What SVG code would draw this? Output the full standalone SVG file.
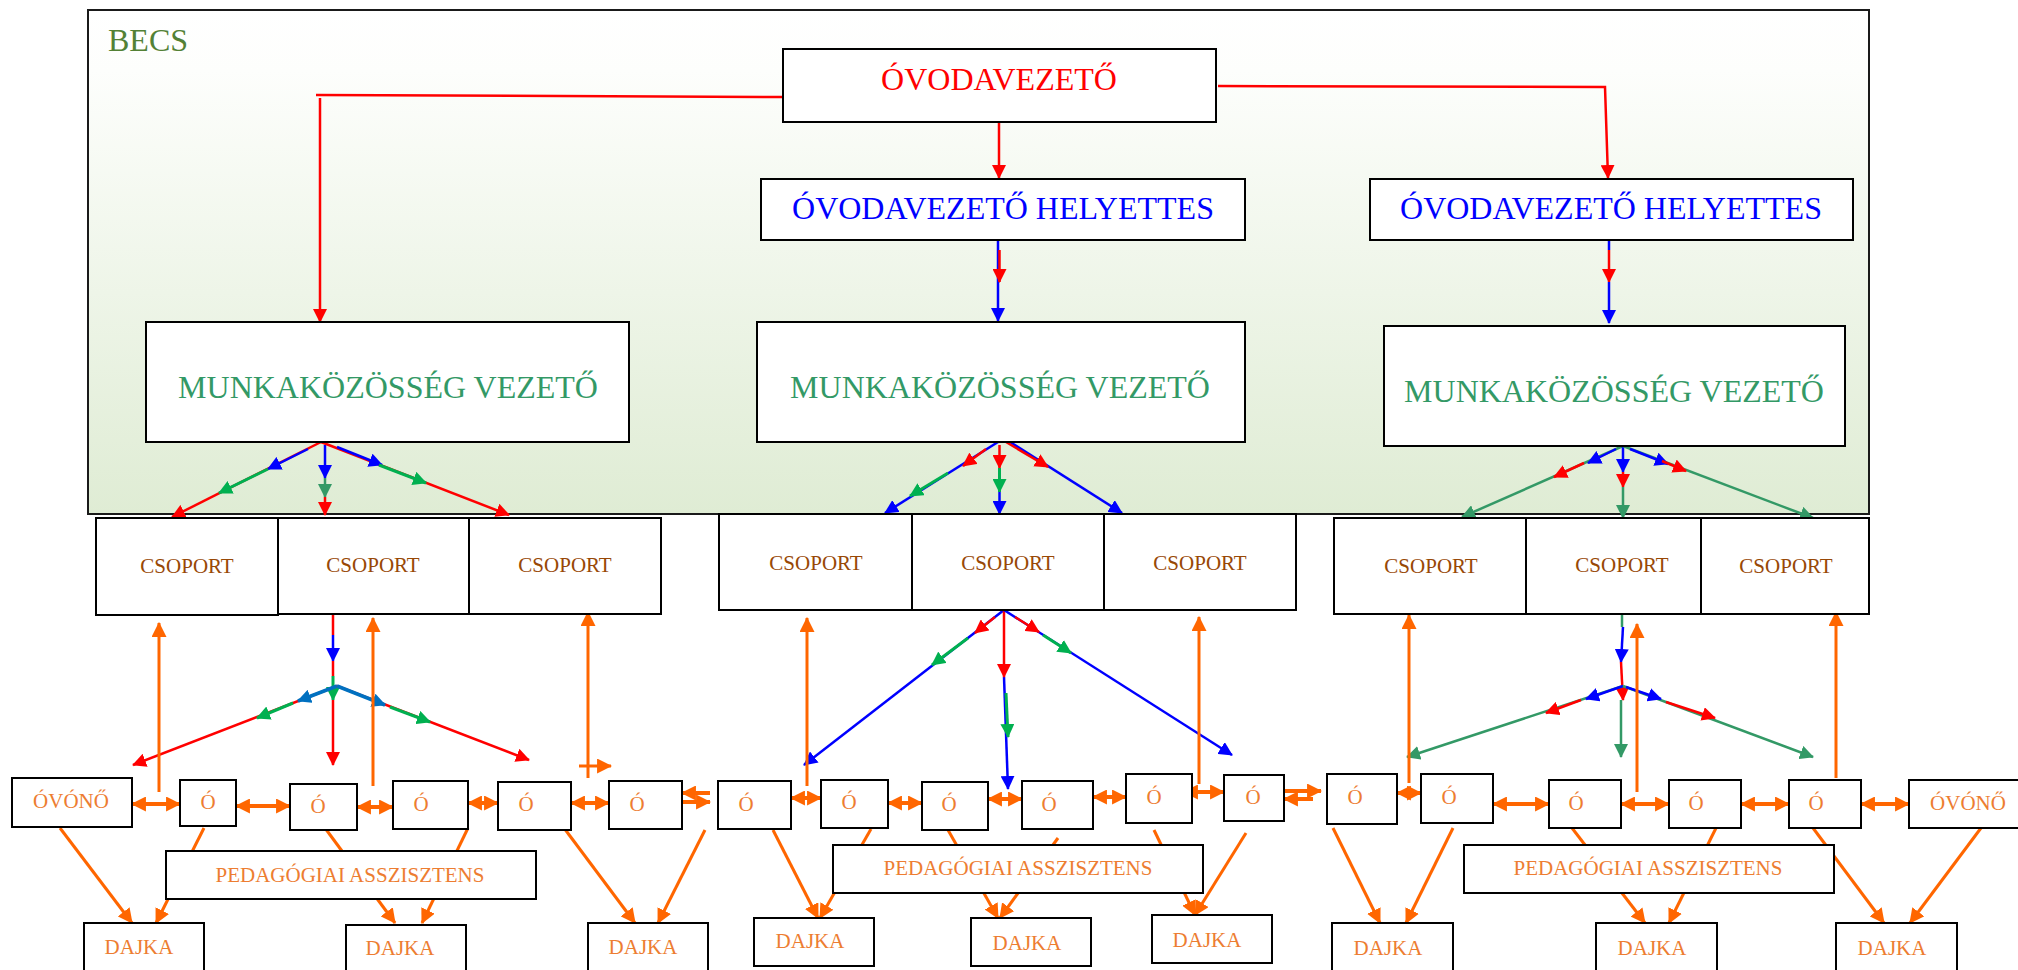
<svg xmlns="http://www.w3.org/2000/svg" width="2018" height="970" viewBox="0 0 2018 970">
<defs>
<linearGradient id="becsGrad" x1="0" y1="0" x2="0" y2="1">
<stop offset="0" stop-color="#ffffff"/>
<stop offset="0.12" stop-color="#fdfefc"/>
<stop offset="1" stop-color="#dfecd4"/>
</linearGradient>
<marker id="mR" viewBox="0 0 14 14" refX="13" refY="7" markerWidth="14" markerHeight="14" markerUnits="userSpaceOnUse" orient="auto-start-reverse"><path d="M0,0 L14,7 L0,14 z" fill="#FF0000"/></marker>
<marker id="mB" viewBox="0 0 14 14" refX="13" refY="7" markerWidth="14" markerHeight="14" markerUnits="userSpaceOnUse" orient="auto-start-reverse"><path d="M0,0 L14,7 L0,14 z" fill="#0000FF"/></marker>
<marker id="mLB" viewBox="0 0 14 14" refX="13" refY="7" markerWidth="14" markerHeight="14" markerUnits="userSpaceOnUse" orient="auto-start-reverse"><path d="M0,0 L14,7 L0,14 z" fill="#0070C0"/></marker>
<marker id="mG" viewBox="0 0 14 14" refX="13" refY="7" markerWidth="14" markerHeight="14" markerUnits="userSpaceOnUse" orient="auto-start-reverse"><path d="M0,0 L14,7 L0,14 z" fill="#00B050"/></marker>
<marker id="mSG" viewBox="0 0 14 14" refX="13" refY="7" markerWidth="14" markerHeight="14" markerUnits="userSpaceOnUse" orient="auto-start-reverse"><path d="M0,0 L14,7 L0,14 z" fill="#339966"/></marker>
<marker id="mO" viewBox="0 0 14 14" refX="13" refY="7" markerWidth="15" markerHeight="15" markerUnits="userSpaceOnUse" orient="auto-start-reverse"><path d="M0,0 L14,7 L0,14 z" fill="#FF6600"/></marker>
</defs>
<style>
.box{fill:#ffffff;stroke:#000000;stroke-width:2}
.t{font-family:"Liberation Serif","Times New Roman",serif;text-anchor:middle}
.big{font-size:32px}
.sm{font-size:21px}
.cr{fill:#FF0000}
.cb{fill:#0000FF}
.cg{fill:#339966}
.cbr{fill:#984806}
.co{fill:#ED7D31}
.r{stroke:#FF0000;stroke-width:2.5;fill:none;marker-end:url(#mR)}
.rn{stroke:#FF0000;stroke-width:2.5;fill:none}
.b{stroke:#0000FF;stroke-width:2.5;fill:none;marker-end:url(#mB)}
.bn{stroke:#0000FF;stroke-width:2.5;fill:none}
.lb{stroke:#0070C0;stroke-width:3.5;fill:none;marker-end:url(#mLB)}
.g{stroke:#00B050;stroke-width:3;fill:none;marker-end:url(#mG)}
.gn{stroke:#00B050;stroke-width:3;fill:none}
.sg{stroke:#339966;stroke-width:2.5;fill:none;marker-end:url(#mSG)}
.sgn{stroke:#339966;stroke-width:2.5;fill:none}
.o{stroke:#FF6600;stroke-width:3;fill:none;marker-end:url(#mO)}
.od{stroke:#FF6600;stroke-width:4;fill:none;marker-start:url(#mO);marker-end:url(#mO)}
.os{stroke:#FF6600;stroke-width:4;fill:none;marker-end:url(#mO)}
</style>

<g id="becs">
<rect x="88" y="10" width="1781" height="504" fill="url(#becsGrad)" stroke="#1a1a1a" stroke-width="2"/>
<text x="108" y="51" font-family="Liberation Serif, Times New Roman, serif" font-size="32" fill="#538135">BECS</text>
</g>

<g id="connectors">
<!-- top level -->
<path class="rn" d="M782,97 L316,95" stroke-width="2"/>
<path class="r" d="M320,98 L320,322" stroke-width="2"/>
<path class="r" d="M999,122 L999,178" stroke-width="2"/>
<path class="r" d="M1218,86 L1605,87 L1608,178" stroke-width="2"/>
<path class="b" d="M998,240 L998,321"/>
<path class="r" d="M999.5,250 L999.5,282"/>
<path class="bn" d="M1609,240 L1609,250"/>
<path class="r" d="M1609,250 L1609,282"/>
<path class="b" d="M1609,282 L1609,323"/>

<!-- left MK bundle -->
<path class="r" d="M321,442 L172,517"/>
<path class="b" d="M308,449 L268,469"/>
<path class="g" d="M268,469 L219,493"/>
<path class="b" d="M325,445 L325,478"/>
<path class="sg" d="M325,478 L325,497"/>
<path class="r" d="M325,497 L325,515"/>
<path class="r" d="M321,442 L509,515"/>
<path class="b" d="M337,447 L382,465"/>
<path class="g" d="M379,465 L426,483"/>

<!-- middle MK bundle -->
<path class="b" d="M998,442 L885,513"/>
<path class="r" d="M986,449 L963,466"/>
<path class="g" d="M948,473 L910,496"/>
<path class="r" d="M999.5,445 L999.5,468"/>
<path class="g" d="M999.5,468 L999.5,492"/>
<path class="b" d="M999.5,492 L999.5,514"/>
<path class="b" d="M1010,442 L1122,513"/>
<path class="r" d="M1006,442 L1048,467"/>

<!-- right MK bundle -->
<path class="sg" d="M1623,446 L1462,517"/>
<path class="b" d="M1616,449 L1588,463"/>
<path class="r" d="M1584,463 L1554,477"/>
<path class="b" d="M1623,447 L1623,472"/>
<path class="r" d="M1623,472 L1623,487"/>
<path class="sg" d="M1623,487 L1623,518"/>
<path class="sg" d="M1623,446 L1813,518"/>
<path class="b" d="M1630,449 L1668,464"/>
<path class="r" d="M1662,461 L1686,471"/>

<!-- left CSOPORT bundle -->
<path class="rn" d="M333,615 L333,635"/>
<path class="b" d="M333,635 L333,661"/>
<path class="rn" d="M333,661 L333,676"/>
<path class="g" d="M333,676 L333,700"/>
<path class="r" d="M333,700 L333,765"/>
<path class="r" d="M337,686 L133,765"/>
<path class="lb" d="M337,686 L298,701"/>
<path class="g" d="M293,703 L257,718"/>
<path class="r" d="M337,686 L529,760"/>
<path class="lb" d="M337,686 L385,705"/>
<path class="g" d="M390,707 L430,722"/>

<!-- middle CSOPORT bundle -->
<path class="b" d="M1004,610 L804,765"/>
<path class="r" d="M995,617 L975,633"/>
<path class="g" d="M968,638 L932,665"/>
<path class="b" d="M1004,677 L1008,789"/>
<path class="r" d="M1004,610 L1004,677"/>
<path class="g" d="M1006,693 L1008,737"/>
<path class="b" d="M1004,610 L1232,755"/>
<path class="r" d="M1015,617 L1039,632"/>
<path class="g" d="M1043,635 L1071,653"/>

<!-- right CSOPORT bundle -->
<path class="sgn" d="M1622,614 L1622,627"/>
<path class="b" d="M1623,627 L1621,662"/>
<path class="r" d="M1621,662 L1623,700"/>
<path class="sg" d="M1621,700 L1621,757"/>
<path class="sg" d="M1623,686 L1407,757"/>
<path class="b" d="M1623,686 L1586,699"/>
<path class="r" d="M1581,700 L1546,713"/>
<path class="sg" d="M1623,686 L1813,757"/>
<path class="b" d="M1626,687 L1661,699"/>
<path class="r" d="M1666,702 L1715,718"/>

<!-- orange up arrows -->
<path class="o" d="M159,792 L159,623"/>
<path class="o" d="M373,786 L373,618"/>
<path class="o" d="M588,778 L588,612"/>
<path class="o" d="M579,766 L611,766"/>
<path class="o" d="M807,786 L807,618"/>
<path class="o" d="M1199,784 L1199,617"/>
<path class="o" d="M1409,783 L1409,615"/>
<path class="o" d="M1637,792 L1637,624"/>
<path class="o" d="M1836,778 L1836,612"/>

<!-- orange horizontal double arrows -->
<path class="od" d="M132,804 L180,804"/>
<path class="od" d="M236,806 L290,806"/>
<path class="od" d="M357,807 L393,807"/>
<path class="od" d="M468,803 L498,803"/>
<path class="od" d="M571,803 L609,803"/>
<path class="os" d="M710,793 L682,793"/>
<path class="os" d="M682,802 L710,802"/>
<path class="od" d="M791,798 L821,798"/>
<path class="od" d="M888,803 L922,803"/>
<path class="od" d="M988,799 L1022,799"/>
<path class="od" d="M1093,797 L1126,797"/>
<path class="od" d="M1184,792 L1224,792"/>
<path class="os" d="M1284,791 L1321,791"/>
<path class="os" d="M1313,799 L1284,799"/>
<path class="od" d="M1397,793 L1421,793"/>
<path class="od" d="M1493,804 L1549,804"/>
<path class="od" d="M1621,804 L1669,804"/>
<path class="od" d="M1741,804 L1789,804"/>
<path class="od" d="M1861,804 L1909,804"/>

<!-- orange lines to DAJKA -->
<path class="o" d="M60,828 L132,923"/>
<path class="o" d="M204,828 L156,923"/>
<path class="o" d="M325,828 L395,923"/>
<path class="o" d="M468,828 L422,923"/>
<path class="o" d="M564,828 L635,923"/>
<path class="o" d="M705,830 L658,923"/>
<path class="o" d="M773,830 L818,918"/>
<path class="o" d="M871,829 L820,918"/>
<path class="o" d="M948,830 L998,918"/>
<path class="o" d="M1058,838 L1000,918"/>
<path class="o" d="M1154,830 L1195,915"/>
<path class="o" d="M1246,833 L1195,915"/>
<path class="o" d="M1333,828 L1380,923"/>
<path class="o" d="M1453,828 L1406,923"/>
<path class="o" d="M1572,828 L1645,923"/>
<path class="o" d="M1716,828 L1669,923"/>
<path class="o" d="M1813,828 L1884,923"/>
<path class="o" d="M1981,828 L1910,923"/>
</g>

<g id="ovodavezeto"><rect class="box" x="783" y="49" width="433" height="73"/><text class="t big cr" x="999" y="90">ÓVODAVEZETŐ</text></g>
<g id="helyettes1"><rect class="box" x="761" y="179" width="484" height="61"/><text class="t big cb" x="1003" y="219">ÓVODAVEZETŐ HELYETTES</text></g>
<g id="helyettes2"><rect class="box" x="1370" y="179" width="483" height="61"/><text class="t big cb" x="1611" y="219">ÓVODAVEZETŐ HELYETTES</text></g>
<g id="mk1"><rect class="box" x="146" y="322" width="483" height="120"/><text class="t big cg" x="388" y="398">MUNKAKÖZÖSSÉG VEZETŐ</text></g>
<g id="mk2"><rect class="box" x="757" y="322" width="488" height="120"/><text class="t big cg" x="1000" y="398">MUNKAKÖZÖSSÉG VEZETŐ</text></g>
<g id="mk3"><rect class="box" x="1384" y="326" width="461" height="120"/><text class="t big cg" x="1614" y="402">MUNKAKÖZÖSSÉG VEZETŐ</text></g>

<g id="csoport1"><rect class="box" x="96" y="518" width="182" height="97"/><text class="t sm cbr" x="187" y="573">CSOPORT</text></g>
<g id="csoport2"><rect class="box" x="278" y="518" width="191" height="96"/><text class="t sm cbr" x="373" y="572">CSOPORT</text></g>
<g id="csoport3"><rect class="box" x="469" y="518" width="192" height="96"/><text class="t sm cbr" x="565" y="572">CSOPORT</text></g>
<g id="csoport4"><rect class="box" x="719" y="514" width="193" height="96"/><text class="t sm cbr" x="816" y="570">CSOPORT</text></g>
<g id="csoport5"><rect class="box" x="912" y="514" width="192" height="96"/><text class="t sm cbr" x="1008" y="570">CSOPORT</text></g>
<g id="csoport6"><rect class="box" x="1104" y="514" width="192" height="96"/><text class="t sm cbr" x="1200" y="570">CSOPORT</text></g>
<g id="csoport7"><rect class="box" x="1334" y="518" width="192" height="96"/><text class="t sm cbr" x="1431" y="573">CSOPORT</text></g>
<g id="csoport8"><rect class="box" x="1526" y="518" width="175" height="96"/><text class="t sm cbr" x="1622" y="572">CSOPORT</text></g>
<g id="csoport9"><rect class="box" x="1701" y="518" width="168" height="96"/><text class="t sm cbr" x="1786" y="573">CSOPORT</text></g>

<g id="ovono1"><rect class="box" x="12" y="778" width="120" height="49"/><text class="t sm co" x="71" y="808">ÓVÓNŐ</text></g>
<g id="o1"><rect class="box" x="180" y="780" width="56" height="46"/><text class="t sm co" x="208" y="809">Ó</text></g>
<g id="o2"><rect class="box" x="290" y="784" width="67" height="46"/><text class="t sm co" x="318" y="813">Ó</text></g>
<g id="o3"><rect class="box" x="393" y="781" width="75" height="48"/><text class="t sm co" x="421" y="811">Ó</text></g>
<g id="o4"><rect class="box" x="498" y="782" width="73" height="48"/><text class="t sm co" x="526" y="811">Ó</text></g>
<g id="o5"><rect class="box" x="609" y="781" width="73" height="48"/><text class="t sm co" x="637" y="811">Ó</text></g>
<g id="o6"><rect class="box" x="718" y="781" width="73" height="48"/><text class="t sm co" x="746" y="811">Ó</text></g>
<g id="o7"><rect class="box" x="821" y="780" width="67" height="48"/><text class="t sm co" x="849" y="809">Ó</text></g>
<g id="o8"><rect class="box" x="922" y="782" width="66" height="48"/><text class="t sm co" x="949" y="811">Ó</text></g>
<g id="o9"><rect class="box" x="1022" y="781" width="71" height="48"/><text class="t sm co" x="1049" y="811">Ó</text></g>
<g id="o10"><rect class="box" x="1126" y="774" width="66" height="49"/><text class="t sm co" x="1154" y="804">Ó</text></g>
<g id="o11"><rect class="box" x="1224" y="775" width="60" height="46"/><text class="t sm co" x="1253" y="804">Ó</text></g>
<g id="o12"><rect class="box" x="1327" y="774" width="70" height="50"/><text class="t sm co" x="1355" y="804">Ó</text></g>
<g id="o13"><rect class="box" x="1421" y="774" width="72" height="49"/><text class="t sm co" x="1449" y="804">Ó</text></g>
<g id="o14"><rect class="box" x="1549" y="780" width="72" height="48"/><text class="t sm co" x="1576" y="810">Ó</text></g>
<g id="o15"><rect class="box" x="1669" y="780" width="72" height="48"/><text class="t sm co" x="1696" y="810">Ó</text></g>
<g id="o16"><rect class="box" x="1789" y="780" width="72" height="48"/><text class="t sm co" x="1816" y="810">Ó</text></g>
<g id="ovono2"><rect class="box" x="1909" y="780" width="115" height="48"/><text class="t sm co" x="1968" y="810">ÓVÓNŐ</text></g>

<g id="ped1"><rect class="box" x="166" y="851" width="370" height="48"/><text class="t sm co" x="350" y="882">PEDAGÓGIAI ASSZISZTENS</text></g>
<g id="ped2"><rect class="box" x="833" y="845" width="370" height="48"/><text class="t sm co" x="1018" y="875">PEDAGÓGIAI ASSZISZTENS</text></g>
<g id="ped3"><rect class="box" x="1464" y="845" width="370" height="48"/><text class="t sm co" x="1648" y="875">PEDAGÓGIAI ASSZISZTENS</text></g>

<g id="dajka1"><rect class="box" x="84" y="923" width="120" height="60"/><text class="t sm co" x="139" y="954">DAJKA</text></g>
<g id="dajka2"><rect class="box" x="346" y="925" width="120" height="60"/><text class="t sm co" x="400" y="955">DAJKA</text></g>
<g id="dajka3"><rect class="box" x="588" y="923" width="120" height="60"/><text class="t sm co" x="643" y="954">DAJKA</text></g>
<g id="dajka4"><rect class="box" x="754" y="918" width="120" height="48"/><text class="t sm co" x="810" y="948">DAJKA</text></g>
<g id="dajka5"><rect class="box" x="971" y="918" width="120" height="48"/><text class="t sm co" x="1027" y="950">DAJKA</text></g>
<g id="dajka6"><rect class="box" x="1152" y="915" width="120" height="48"/><text class="t sm co" x="1207" y="947">DAJKA</text></g>
<g id="dajka7"><rect class="box" x="1332" y="923" width="121" height="60"/><text class="t sm co" x="1388" y="955">DAJKA</text></g>
<g id="dajka8"><rect class="box" x="1596" y="923" width="121" height="60"/><text class="t sm co" x="1652" y="955">DAJKA</text></g>
<g id="dajka9"><rect class="box" x="1836" y="923" width="121" height="60"/><text class="t sm co" x="1892" y="955">DAJKA</text></g>
</svg>
